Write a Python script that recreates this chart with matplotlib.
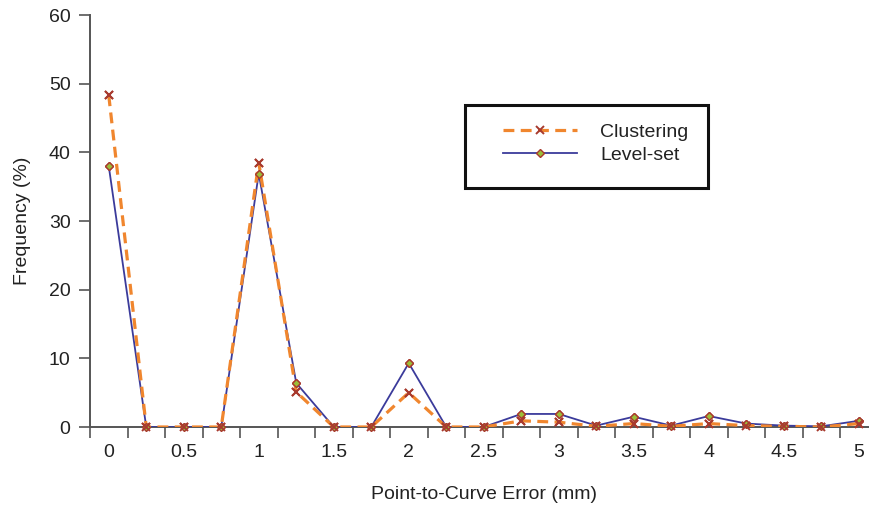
import matplotlib
matplotlib.use("Agg")
import matplotlib.pyplot as plt
from matplotlib.patches import Rectangle
from matplotlib.ticker import FixedLocator

plt.rcParams['font.family'] = ['Liberation Sans', 'DejaVu Sans']

# Data (category axis: error bins in mm)
error_mm = [0, 0.25, 0.5, 0.75, 1, 1.25, 1.5, 1.75, 2, 2.25, 2.5,
            2.75, 3, 3.25, 3.5, 3.75, 4, 4.25, 4.5, 4.75, 5]
clustering = [48.3, 0, 0, 0, 38.5, 5.1, 0, 0, 5.0, 0, 0,
              0.9, 0.7, 0.1, 0.5, 0.1, 0.5, 0.2, 0.1, 0, 0.5]
levelset = [38.0, 0, 0, 0, 36.9, 6.4, 0, 0, 9.3, 0, 0,
            1.9, 1.9, 0.2, 1.5, 0.2, 1.6, 0.5, 0.2, 0.1, 0.9]
xtick_labels = ['0', '0.5', '1', '1.5', '2', '2.5', '3', '3.5', '4', '4.5', '5']
ytick_values = [0, 10, 20, 30, 40, 50, 60]

W, H = 869, 508
FS = 14
fig = plt.figure(figsize=(W / 100, H / 100), dpi=100)
ax_left, ax_right, ax_top, ax_bottom = 90, 877.5, 15, 427
ax = fig.add_axes([ax_left / W, 1 - ax_bottom / H,
                   (ax_right - ax_left) / W, (ax_bottom - ax_top) / H])
ax.patch.set_alpha(0)

orange = '#f0862e'
blue = '#3b3b9b'
mred = '#a83a2e'
green = '#9bbf3a'

step = error_mm[1] - error_mm[0]
ax.set_xlim(error_mm[0] - step / 2, error_mm[-1] + step / 2)
ax.set_ylim(0, 60)

l_lvl, = ax.plot(error_mm, levelset, color=blue, lw=1.3, zorder=3,
                 marker='D', ms=4.5, mfc=green, mec=mred, mew=1.0)
l_clu, = ax.plot(error_mm, clustering, color=orange, lw=2.3, ls=(0, (3.4, 2.0)),
                 zorder=4, marker='x', ms=6, mec=mred, mew=1.4)
# markers on top
ax.plot(error_mm, levelset, ls='none', marker='D', ms=4.5, mfc=green, mec=mred,
        mew=1.0, zorder=5, clip_on=False)
ax.plot(error_mm, clustering, ls='none', marker='x', ms=6, mec=mred,
        mew=1.4, zorder=6, clip_on=False)

for s in ['top', 'right']:
    ax.spines[s].set_visible(False)
for s in ['left', 'bottom']:
    ax.spines[s].set_color('#555555')
    ax.spines[s].set_linewidth(1.4)

ax.set_yticks(ytick_values)
ax.set_yticklabels([str(v) for v in ytick_values])
ax.tick_params(axis='y', direction='out', length=8, width=1.2, color='#555555',
               labelsize=FS, labelcolor='#222222', pad=6)

major_pos = [float(t) for t in xtick_labels]
ax.set_xticks(major_pos)
ax.set_xticklabels(xtick_labels)
edges = [e - step / 2 for e in error_mm] + [error_mm[-1] + step / 2]
ax.xaxis.set_minor_locator(FixedLocator(edges))
ax.tick_params(axis='x', which='major', length=0, labelsize=FS,
               labelcolor='#222222', pad=12)
ax.tick_params(axis='x', which='minor', direction='out', length=8, width=1.2,
               color='#555555')

ax.set_xlabel('Point-to-Curve Error (mm)', fontsize=FS, color='#222222', labelpad=18)
ax.set_ylabel('Frequency (%)', fontsize=FS, color='#222222', labelpad=13)

# legend frame
fig.patches.append(Rectangle((465 / W, 1 - 188 / H), 243 / W, 83 / H,
                             transform=fig.transFigure, facecolor='white',
                             edgecolor='#111111', lw=2.2, zorder=10))
leg = fig.legend([l_clu, l_lvl], ['Clustering', 'Level-set'], loc='upper left',
                 bbox_to_anchor=(503 / W, 1 - 123 / H), frameon=False,
                 fontsize=FS, handlelength=3.8, handletextpad=1.2,
                 borderpad=0, borderaxespad=0, labelspacing=0.3)
leg.set_zorder(11)
for t in leg.get_texts():
    t.set_color('#222222')

fig.savefig('out.png', dpi=100)
